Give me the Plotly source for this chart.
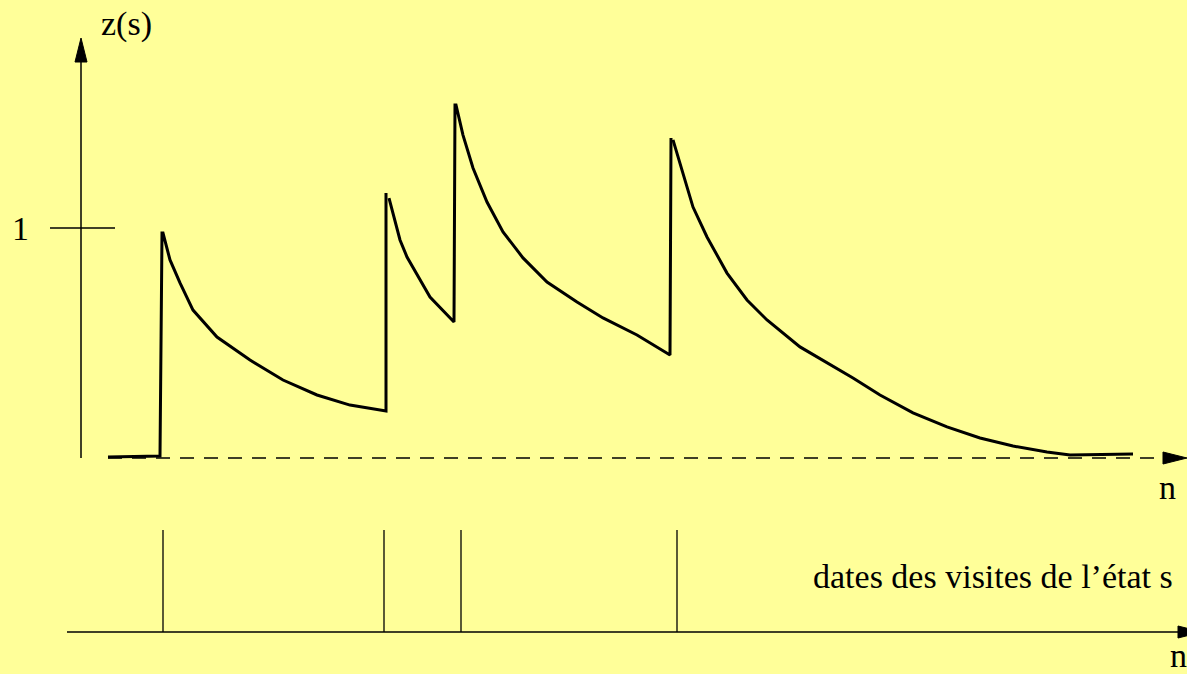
import plotly.graph_objects as go

# ---- data (n on x, z(s) on y) ----
# trace of z(s): segments separated by None (pen lifts in the drawing)
curve_n = [108, 160, 162,
           163, 170, 180, 193, 217, 250, 283, 317, 350, 386, 386, None,
           389, 400, 407, 420, 430, 454, 455,
           456, 463, 473, 487, 503, 523, 547, 577, 603, 637, 670, 671, None,
           673, 683, 693, 707, 727, 747, 767, 800, 827, 853, 880, 913, 947, 980, 1013, 1047, 1070, 1133]
curve_z = [0.004, 0.009, 0.978,
           0.978, 0.861, 0.761, 0.643, 0.526, 0.426, 0.339, 0.274, 0.230, 0.204, 1.152, None,
           1.130, 0.948, 0.874, 0.774, 0.700, 0.591, 1.535,
           1.535, 1.404, 1.261, 1.113, 0.983, 0.870, 0.765, 0.678, 0.609, 0.535, 0.448, 1.391, None,
           1.383, 1.239, 1.091, 0.961, 0.804, 0.687, 0.600, 0.483, 0.413, 0.348, 0.274, 0.196, 0.135, 0.087, 0.052, 0.026, 0.013, 0.017]

visit_dates = [163, 384, 461, 677]
tick_value = 1
tick_label = "1"

# layout constants
BG = "#FFFF99"
X0, X1 = 0, 1187
YMIN, YMAX = -0.9391, 1.9913
ZPX = 230.0  # pixels per unit z
axis_x = 81
base_x0, base_x1 = 108, 1163
time_z = -0.7565
visit_top = -0.313
FONT = "Liberation Serif, Times New Roman, Times, serif"

fig = go.Figure()

# main curve
fig.add_trace(go.Scatter(x=curve_n, y=curve_z, mode="lines",
                         line=dict(color="black", width=3), connectgaps=False,
                         hoverinfo="skip", showlegend=False))

shapes = []
# dashed baseline z = 0
shapes.append(dict(type="line", xref="x", yref="y", x0=base_x0, x1=base_x1, y0=0, y1=0,
                   line=dict(color="black", width=1.5, dash="14px,10px")))
# arrowhead of baseline
ah = 6 / ZPX
shapes.append(dict(type="path", xref="x", yref="y",
                   path=f"M {base_x1},{ah} L {base_x1+24},0 L {base_x1},{-ah} Z",
                   fillcolor="black", line=dict(color="black", width=1)))
# vertical axis
top_base = (458 - 62) / ZPX
top_tip = (458 - 38) / ZPX
shapes.append(dict(type="line", xref="x", yref="y", x0=axis_x, x1=axis_x, y0=0, y1=top_base,
                   line=dict(color="black", width=1.5)))
shapes.append(dict(type="path", xref="x", yref="y",
                   path=f"M {axis_x-6},{top_base} L {axis_x},{top_tip} L {axis_x+6},{top_base} Z",
                   fillcolor="black", line=dict(color="black", width=1)))
# tick at z = 1
shapes.append(dict(type="line", xref="x", yref="y", x0=50, x1=115, y0=tick_value, y1=tick_value,
                   line=dict(color="black", width=1.5)))
# timeline axis
shapes.append(dict(type="line", xref="x", yref="y", x0=67, x1=1178, y0=time_z, y1=time_z,
                   line=dict(color="black", width=1.5)))
shapes.append(dict(type="path", xref="x", yref="y",
                   path=f"M 1178,{time_z+ah} L 1202,{time_z} L 1178,{time_z-ah} Z",
                   fillcolor="black", line=dict(color="black", width=1)))
# visit marks
for d in visit_dates:
    shapes.append(dict(type="line", xref="x", yref="y", x0=d, x1=d, y0=time_z, y1=visit_top,
                       line=dict(color="black", width=1.3)))

def z_of(py):
    return (458 - py) / ZPX

annots = [
    dict(x=126, y=z_of(24), text="z(s)"),
    dict(x=20, y=tick_value, text=tick_label),
    dict(x=1167, y=z_of(487), text="n"),
    dict(x=1178, y=z_of(655), text="n"),
    dict(x=993, y=z_of(576), text="dates des visites de l\u2019\u00e9tat s"),
]
for a in annots:
    a.update(xref="x", yref="y", showarrow=False, xanchor="center", yanchor="middle",
             font=dict(family=FONT, size=34, color="black"))

fig.update_layout(
    width=1187, height=674, margin=dict(l=0, r=0, t=0, b=0),
    paper_bgcolor=BG, plot_bgcolor=BG,
    xaxis=dict(range=[X0, X1], visible=False, fixedrange=True),
    yaxis=dict(range=[YMIN, YMAX], visible=False, fixedrange=True),
    shapes=shapes, annotations=annots, showlegend=False,
)

fig.write_html("out.html", config={"displayModeBar": False},
               post_script="document.body.style.margin='0';document.body.style.overflow='hidden';document.body.style.background='#FFFF99';")
